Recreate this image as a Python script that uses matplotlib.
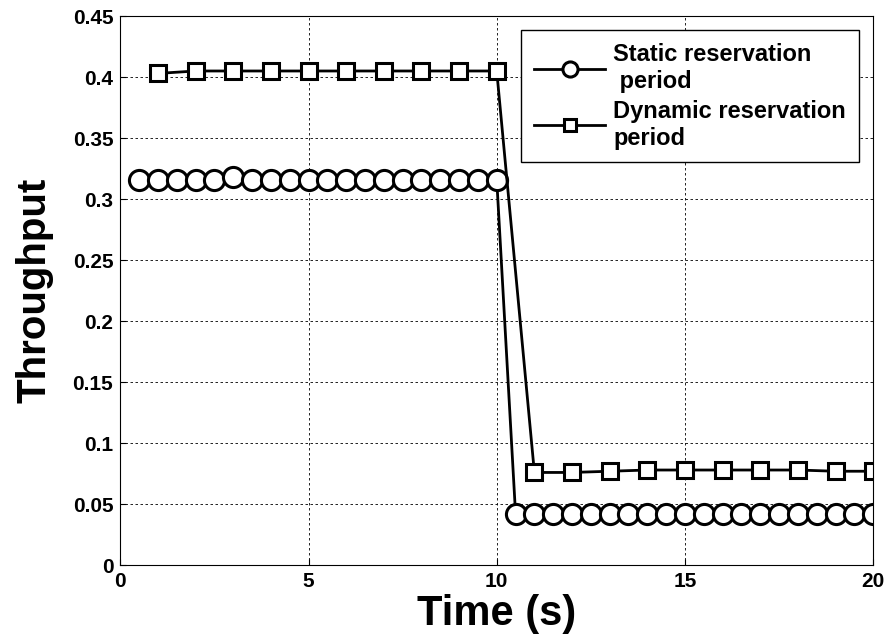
import matplotlib
matplotlib.use("Agg")
import matplotlib.pyplot as plt
import numpy as np

plt.rcParams['font.family'] = ['Liberation Sans', 'DejaVu Sans']
plt.rcParams['font.weight'] = 'bold'

# static reservation period (circles, every 0.5 s)
static_t = [0.5, 1, 1.5, 2, 2.5, 3, 3.5, 4, 4.5, 5, 5.5, 6, 6.5, 7, 7.5, 8, 8.5, 9, 9.5, 10,
            10.5, 11, 11.5, 12, 12.5, 13, 13.5, 14, 14.5, 15, 15.5, 16, 16.5, 17, 17.5, 18, 18.5, 19, 19.5, 20]
static_thr = [0.316, 0.316, 0.316, 0.316, 0.316, 0.318, 0.316, 0.316, 0.316, 0.316,
              0.316, 0.316, 0.316, 0.316, 0.316, 0.316, 0.316, 0.316, 0.316, 0.316,
              0.042, 0.042, 0.042, 0.042, 0.042, 0.042, 0.042, 0.042, 0.042, 0.042,
              0.042, 0.042, 0.042, 0.042, 0.042, 0.042, 0.042, 0.042, 0.042, 0.042]

# dynamic reservation period (squares, every 1 s)
dynamic_t = [1, 2, 3, 4, 5, 6, 7, 8, 9, 10, 11, 12, 13, 14, 15, 16, 17, 18, 19, 20]
dynamic_thr = [0.403, 0.405, 0.405, 0.405, 0.405, 0.405, 0.405, 0.405, 0.405, 0.405,
               0.076, 0.076, 0.077, 0.078, 0.078, 0.078, 0.078, 0.078, 0.077, 0.077]

fig = plt.figure(figsize=(8.91, 6.43), dpi=100)
ax = fig.add_axes([0.135, 0.121, 0.845, 0.854])

ax.plot(static_t, static_thr, color='black', lw=2, marker='o', ms=14.5,
        mfc='white', mec='black', mew=2.2, label='Static reservation\n period')
ax.plot(dynamic_t, dynamic_thr, color='black', lw=2, marker='s', ms=11,
        mfc='white', mec='black', mew=2.2, label='Dynamic reservation\nperiod')

ax.set_xlim(0, 20)
ax.set_ylim(0, 0.45)
ax.set_xticks([0, 5, 10, 15, 20])
ax.set_yticks(np.arange(0, 0.451, 0.05))
ax.set_yticklabels(['0', '0.05', '0.1', '0.15', '0.2', '0.25', '0.3', '0.35', '0.4', '0.45'])
ax.tick_params(labelsize=15, direction='in', length=4, pad=5)
ax.grid(True, color='black', linestyle=(0, (3, 3)), linewidth=0.6)

ax.set_xlabel('Time (s)', fontsize=30, fontweight='bold', labelpad=2)
ax.set_ylabel('Throughput', fontsize=29, fontweight='bold', labelpad=14)

leg = ax.legend(loc='upper right', fontsize=17, frameon=True, fancybox=False,
                edgecolor='black', framealpha=1, handlelength=3.0, markerscale=0.75,
                borderaxespad=0.6, labelspacing=0.3, borderpad=0.55, handletextpad=0.35)
leg.get_frame().set_linewidth(1)

fig.savefig('out.png', dpi=100)
